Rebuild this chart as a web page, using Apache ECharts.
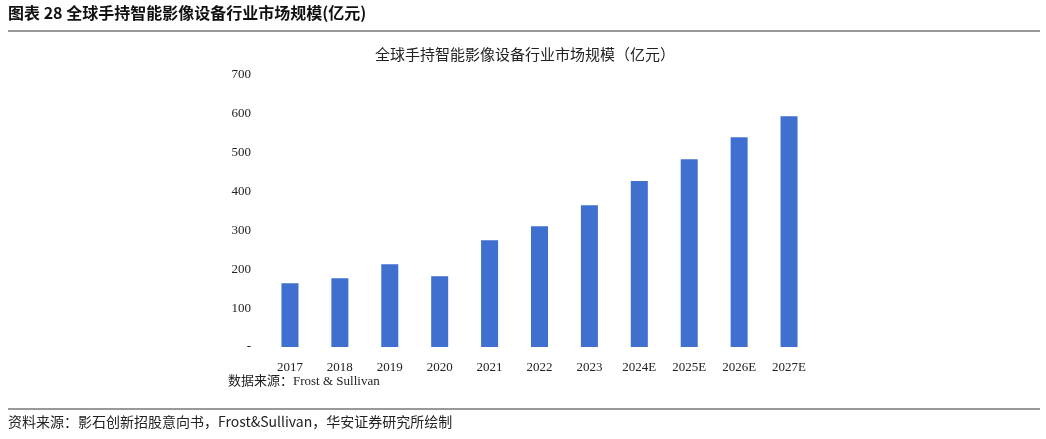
<!DOCTYPE html>
<html><head><meta charset="utf-8">
<script src="https://cdn.jsdelivr.net/npm/echarts@6/dist/echarts.min.js"></script>
<style>html,body{margin:0;padding:0;background:#fff}#c{width:1046px;height:439px}</style>
</head><body><div id="c"></div>
<script>
const years = ["2017","2018","2019","2020","2021","2022","2023","2024E","2025E","2026E","2027E"];
const marketSize = [164,177,213,182,275,311,365,427,483,540,594];
const yTicks = [0,100,200,300,400,500,600,700];

const chart = echarts.init(document.getElementById("c"));
const serif = "'Liberation Serif','Noto Sans CJK SC',serif";
chart.setOption({
  animation: false,
  title: {
    text: "全球手持智能影像设备行业市场规模（亿元）",
    left: 520, top: 44, textAlign: "center",
    textStyle: {fontSize: 15, fontWeight: "normal", color: "#222", fontFamily: serif}
  },
  grid: {left: 265, right: 232, top: 75, bottom: 92},
  xAxis: {
    type: "category", data: years,
    axisLine: {show: false}, axisTick: {show: false},
    axisLabel: {color: "#222", fontSize: 13, fontFamily: serif, margin: 14}
  },
  yAxis: {
    type: "value", min: 0, max: 700, interval: 100,
    splitLine: {show: false},
    axisLine: {show: false},
    axisTick: {show: false},
    axisLabel: {color: "#222", fontSize: 13, fontFamily: serif, margin: 14,
      formatter: v => yTicks.includes(v) ? (v === 0 ? "-" : String(v)) : ""}
  },
  series: [{
    type: "bar", data: marketSize, barWidth: 17,
    itemStyle: {color: "#3f6fcf"}
  }],
  graphic: [
    {type: "text", left: 8, top: 5, style: {text: "图表 28 全球手持智能影像设备行业市场规模(亿元)", fontSize: 16, fontWeight: "bold", fill: "#111", fontFamily: "'Noto Sans CJK SC',sans-serif"}},
    {type: "line", shape: {x1: 8, y1: 31, x2: 1040, y2: 31}, style: {stroke: "#333", lineWidth: 1}},
    {type: "text", left: 228, top: 375, style: {text: "数据来源：Frost & Sullivan", fontSize: 13, fill: "#222", fontFamily: serif}},
    {type: "line", shape: {x1: 8, y1: 409, x2: 1040, y2: 409}, style: {stroke: "#333", lineWidth: 1}},
    {type: "text", left: 8, top: 415, style: {text: "资料来源：影石创新招股意向书，Frost&Sullivan，华安证券研究所绘制", fontSize: 14, fill: "#222", fontFamily: "'Noto Sans CJK SC',sans-serif"}}
  ]
});
</script></body></html>
